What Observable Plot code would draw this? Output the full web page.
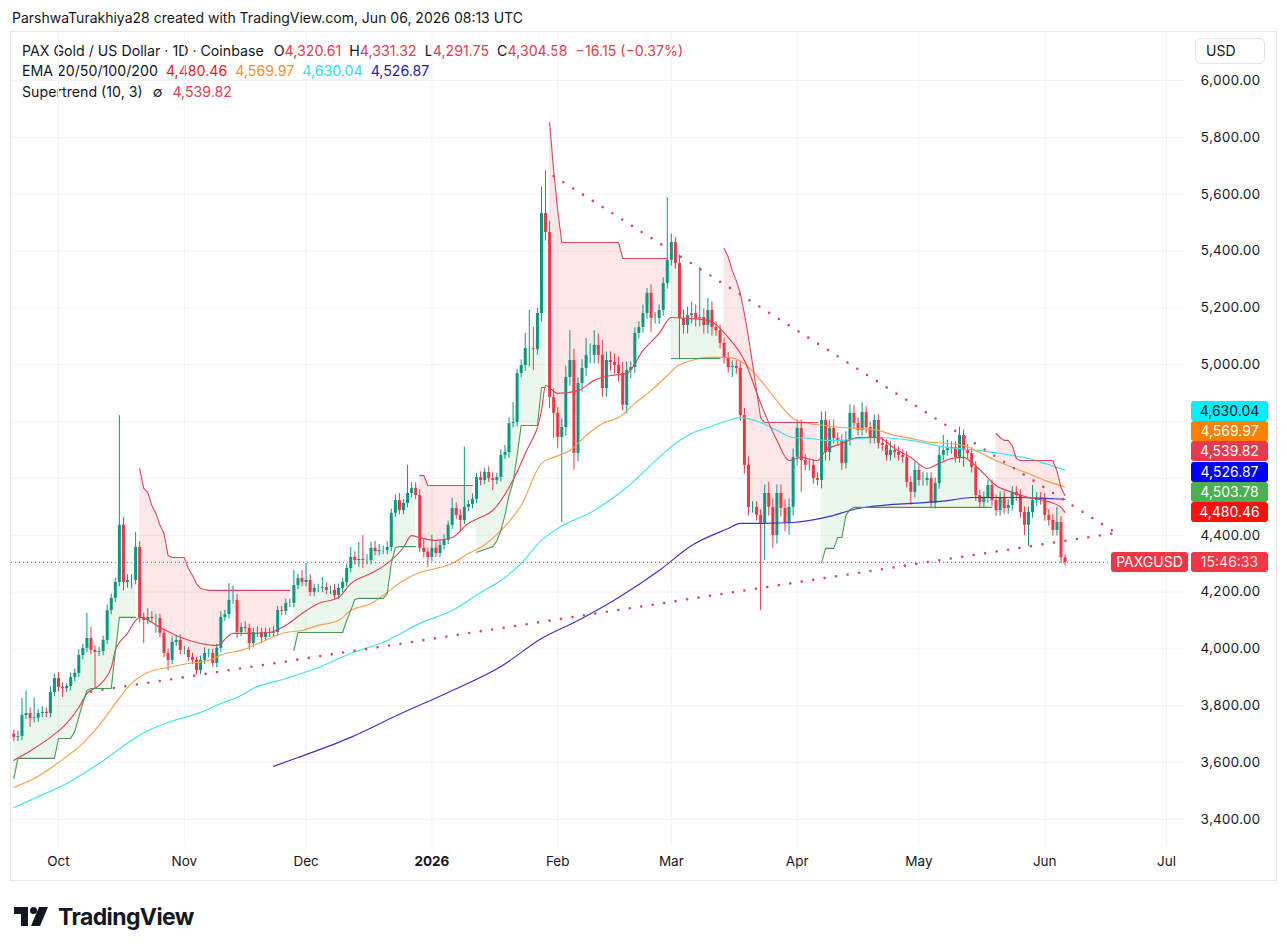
<!DOCTYPE html>
<html><head><meta charset="utf-8">
<script src="https://cdn.jsdelivr.net/npm/d3@7"></script>
<script src="https://cdn.jsdelivr.net/npm/@observablehq/plot@0.6"></script>
<style>
body{margin:0;background:#fff;font-family:Inter,"Noto Sans",sans-serif;color:#131722;}
#page{position:relative;width:1287px;height:952px;overflow:hidden;background:#fff;}
.abs{position:absolute;white-space:nowrap;}
.lg{font-size:14.2px;line-height:18px;left:22px;}
.lg span{margin-left:8px;}
.lbl{position:absolute;height:20px;line-height:20px;border-radius:3px;font-size:14px;text-align:center;color:#fff;}
#frame{position:absolute;left:11px;top:32px;width:1265px;height:848px;box-shadow:0 0 0 1px #e6e8ee;}
</style></head><body><div id="page">
<div class="abs" style="left:12px;top:9px;font-size:14px;line-height:18px;">ParshwaTurakhiya28 created with TradingView.com, Jun 06, 2026 08:13 UTC</div>
<div id="frame"></div>
<div class="abs lg" style="top:42px;">PAX Gold / US Dollar · 1D · Coinbase<span style="margin-left:10px">O<b style="font-weight:400;color:#e0404f">4,320.61</b></span><span>H<b style="font-weight:400;color:#e0404f">4,331.32</b></span><span>L<b style="font-weight:400;color:#e0404f">4,291.75</b></span><span>C<b style="font-weight:400;color:#e0404f">4,304.58</b></span><span style="color:#e0404f">−16.15 (−0.37%)</span></div>
<div class="abs lg" style="top:62px;">EMA 20/50/100/200<span style="color:#e8202a">4,480.46</span><span style="color:#f0902a">4,569.97</span><span style="color:#2fdce8">4,630.04</span><span style="color:#2222b0">4,526.87</span></div>
<div class="abs lg" style="top:83px;">Supertrend (10, 3)<span style="margin-left:10px">∅</span><span style="margin-left:10px;color:#e0404f">4,539.82</span></div>
<div class="abs" style="left:1195px;top:38px;width:70px;height:26px;border:1px solid #e0e3eb;border-radius:6px;box-sizing:border-box;font-size:14px;line-height:24px;padding-left:10px;">USD</div>
<div class="abs" style="left:14px;top:904px;">
<svg width="200" height="26" viewBox="0 0 200 26"><path d="M0 3H14V22H7V10H0Z" fill="#131722"/><circle cx="19.5" cy="6.5" r="3.5" fill="#131722"/><path d="M25 3H34L26 22H17Z" fill="#131722"/><text x="44" y="21" font-family="Inter, sans-serif" font-size="23" font-weight="700" letter-spacing="-0.6" fill="#131722">TradingView</text></svg>
</div>
<div id="chart" class="abs" style="left:11px;top:32px;"></div>
</div>
<script>
// ---- data ----
const firstOpen = 3700;
const close = [
3689,3692,3766,3773,3755,3757,3773,3777,3773,3847,
3896,3865,3861,3868,3900,3914,3977,4002,4037,3995,
3988,3991,4030,4135,4178,4234,4435,4234,4241,4241,
4357,4111,4100,4111,4107,4107,4055,3984,3960,4023,
4030,3995,3995,3970,3960,3924,3960,3984,3984,3949,
4002,4111,4121,4171,4171,4058,4076,4072,4019,4058,
4058,4041,4058,4055,4058,4135,4132,4160,4160,4223,
4248,4234,4241,4199,4213,4213,4216,4206,4206,4188,
4213,4234,4283,4322,4311,4315,4311,4311,4354,4343,
4347,4347,4357,4477,4522,4487,4512,4547,4565,4540,
4354,4340,4322,4354,4336,4364,4382,4435,4494,4470,
4452,4498,4508,4526,4603,4593,4621,4600,4593,4603,
4681,4691,4793,4797,4969,4997,5057,5057,5054,5180,
5532,5465,4885,4829,4744,4779,4955,5015,4688,4934,
4987,5033,5033,5068,5033,4916,5015,5008,4997,4969,
4857,4980,4990,5110,5131,5180,5251,5163,5163,5191,
5286,5367,5430,5356,5163,5138,5173,5180,5163,5166,
5138,5191,5131,5120,5075,5022,4990,4994,4987,4821,
4646,4498,4498,4470,4442,4547,4498,4399,4547,4494,
4442,4498,4674,4776,4663,4646,4646,4600,4593,4804,
4691,4776,4741,4734,4653,4734,4829,4793,4769,4832,
4779,4741,4804,4723,4716,4681,4698,4691,4681,4674,
4586,4551,4628,4593,4593,4600,4512,4582,4681,4698,
4705,4709,4674,4751,4698,4688,4639,4540,4515,4533,
4575,4522,4487,4533,4494,4505,4551,4540,4480,4435,
4480,4522,4530,4526,4470,4452,4417,4445,4320.61,4304.58];
const wickUp = [
15,20,60,80,20,70,15,20,15,20, 15,20,15,10,15,15,20,15,88,39,
15,15,15,20,15,15,386,28,20,20, 53,20,15,30,20,15,15,10,15,20,
15,20,15,10,15,10,15,20,15,15, 15,20,15,59,50,20,15,20,15,15,
20,15,15,15,20,15,15,15,15,53, 15,28,60,20,15,15,36,15,15,20,
15,15,15,35,20,60,84,20,21,25, 20,15,20,15,20,25,15,99,20,20,
20,30,15,46,20,15,20,15,36,20, 20,212,15,20,15,20,15,20,20,15,
20,25,20,70,15,20,53,134,74,18, 92,151,40,30,20,30,40,105,40,20,
30,59,40,52,40,52,30,30,30,30, 40,30,20,20,20,30,17,30,20,20,
20,221,30,18,30,30,30,40,30,176, 30,42,30,20,20,20,20,20,20,25,
25,30,20,20,20,30,39,30,30,30, 30,30,30,30,30,20,20,20,20,30,
30,30,30,20,20,30,30,28,20,35, 20,20,20,20,20,20,30,20,20,20,
20,20,30,20,30,20,20,20,30,53, 30,20,20,30,20,20,20,20,20,20,
20,20,20,20,20,20,20,20,20,20, 20,53,20,20,20,20,20,53,20,10.71];
const wickDn = [
15,15,15,15,31,15,15,15,15,15, 15,15,31,15,15,15,15,15,15,15,
127,15,15,15,15,15,15,30,20,30, 15,20,81,15,15,52,15,15,36,15,
15,15,15,15,15,15,15,15,15,14, 15,15,15,15,15,20,15,15,24,15,
17,22,15,15,15,15,15,15,15,15, 15,15,15,15,15,15,15,15,15,15,
15,15,15,15,15,24,28,15,15,15, 15,15,15,15,15,15,15,15,15,15,
15,20,35,15,15,15,15,15,15,15, 42,15,15,15,15,20,15,15,35,15,
15,15,20,15,15,15,20,64,74,20, 30,30,40,88,40,299,30,30,60,30,
30,30,30,30,30,31,30,30,30,30, 20,30,30,20,20,20,20,50,20,20,
20,20,20,20,141,30,30,30,30,30, 30,30,30,20,20,20,20,35,20,20,
30,30,20,20,307,131,30,45,30,30, 30,42,30,30,112,20,20,20,20,30,
30,30,20,20,25,20,20,20,20,20, 20,20,20,20,20,20,20,20,20,20,
20,46,20,20,20,20,14,20,20,20, 20,20,20,20,59,20,20,20,20,20,
20,20,20,20,20,20,20,20,20,36, 75,20,20,20,20,20,20,20,20,12.83];

const ema20Day = [0,5,9,13,16,18,21,24,25,28,30,31,36,41,46,50,54,59,63,67,71,75,80,83,88,92,96,98,100,104,108,112,115,118,122,126,130,131,134,139,143,147,151,155,159,162,166,171,176,180,184,188,191,194,198,200,204,208,213,217,221,225,228,231,234,236,239,242,246,250,254,258,259];
const ema20Val = [3608,3650,3689,3738,3794,3843,3872,3935,3995,4055,4100,4111,4076,4041,4019,4012,4055,4055,4058,4083,4125,4160,4181,4230,4266,4301,4357,4399,4392,4382,4392,4442,4463,4487,4568,4688,4839,4927,4899,4909,4945,4962,4969,5050,5110,5166,5163,5156,5096,5015,4864,4734,4663,4674,4663,4698,4723,4744,4744,4705,4674,4635,4653,4670,4674,4656,4617,4575,4551,4533,4522,4498,4480.46];
const ema50Day = [0,5,11,17,21,25,29,33,38,43,48,52,56,59,67,71,75,80,83,88,92,96,100,104,108,112,115,120,125,130,133,137,141,145,149,153,157,161,163,167,171,176,180,184,188,192,196,200,204,208,213,217,221,226,230,234,238,242,246,250,254,259];
const ema50Val = [3513,3544,3601,3668,3731,3808,3879,3917,3935,3949,3960,3984,3995,4012,4058,4065,4083,4100,4135,4160,4199,4241,4269,4283,4301,4336,4357,4417,4505,4653,4674,4698,4751,4793,4814,4864,4909,4962,4990,5015,5026,5026,5004,4945,4874,4811,4793,4786,4779,4776,4769,4751,4741,4727,4723,4716,4691,4663,4639,4617,4593,4569.97];
const ema100Day = [0,5,13,21,28,33,38,46,51,56,59,67,75,83,92,100,108,115,120,125,130,134,143,151,159,163,167,171,176,179,184,188,192,196,200,204,208,213,221,230,238,246,250,254,259];
const ema100Val = [3442,3474,3527,3597,3668,3713,3741,3777,3808,3836,3861,3896,3935,3984,4030,4090,4135,4199,4241,4301,4382,4424,4487,4568,4674,4723,4758,4779,4804,4814,4797,4769,4744,4741,4734,4734,4741,4744,4734,4709,4698,4681,4670,4653,4630.04];
const ema200Day = [64,70,83,95,107,120,130,139,149,159,167,176,179,184,192,200,208,216,221,230,236,246,254,259];
const ema200Val = [3587,3618,3689,3770,3847,3938,4037,4100,4181,4276,4364,4424,4442,4442,4445,4463,4494,4508,4512,4522,4533,4533,4530,4526.87];

// Supertrend: segment starts (day index) with direction, and level knots [day, value]
const stSegStart = [0,31,69,100,114,132,162,175,199,242];
const stSegDir = [1,-1,1,-1,1,-1,1,-1,1,-1];
const stKnots = [[0,3544],[1,3615],[11,3685],[15,3710],[16,3760],[17,3810],[18,3854],[19,3861],[25,3990],[26,4111],
[31,4635],[32,4565],[33,4551],[34,4505],[35,4477],[36,4435],[37,4406],[38,4329],[39,4322],[43,4283],[44,4259],[45,4230],[46,4213],[47,4209],[48,4206],
[69,3995],[70,4058],[82,4100],[83,4135],[84,4174],[85,4178],[92,4195],[93,4300],[94,4357],[95,4360],
[100,4610],[102,4575],
[114,4340],[115,4345],[116,4350],[117,4355],[118,4360],[119,4380],[120,4417],[121,4470],[122,4540],[123,4586],[124,4680],[125,4786],[130,4920],
[132,5852],[133,5683],[134,5543],[135,5430],[150,5374],
[162,5022],
[175,5409],[176,5380],[177,5332],[178,5296],[179,5251],[180,5180],[181,5096],[182,5004],[183,4909],[184,4814],[185,4797],
[199,4304],[200,4354],[203,4392],[205,4470],[206,4490],[207,4498],
[242,4758],[243,4744],[244,4734],[246,4716],[247,4670],[248,4663],[257,4628],[258,4568],[259,4539.82]];

const trendLow = [[19,3850],[272,4409]];
const trendHigh = [[133,5664],[272,4404]];

const yGrid = [3400,3600,3800,4000,4200,4400,4600,4800,5000,5200,5400,5600,5800,6000];
const yLabelTicks = [3400,3600,3800,4000,4200,4400,5000,5200,5400,5600,5800,6000];
const monthTicks = [[2025,9],[2025,10],[2025,11],[2026,0],[2026,1],[2026,2],[2026,3],[2026,4],[2026,5],[2026,6]].map(([y,m])=>new Date(Date.UTC(y,m,1)));
const lastClose = 4304.58;
const valueLabels = [
 {v:4630.04, bg:"#00f0ff", fg:"#131722"},
 {v:4569.97, bg:"#ff8000", fg:"#fff"},
 {v:4539.82, bg:"#e8384c", fg:"#fff"},
 {v:4526.87, bg:"#0000ff", fg:"#fff"},
 {v:4503.78, bg:"#4caf50", fg:"#fff"},
 {v:4480.46, bg:"#ff1010", fg:"#fff"}];

// ---- build tables ----
const day = i => new Date(Date.UTC(2025, 8, 20 + i));
const candles = close.map((c, i) => {
  const o = i === 0 ? firstOpen : close[i-1];
  return {date: day(i), open: o, close: c, high: Math.max(o,c)+wickUp[i], low: Math.min(o,c)-wickDn[i], mid: (o+c)/2};
});
const stRows = candles.map((d, i) => {
  let seg = 0; for (let k = 0; k < stSegStart.length; k++) if (stSegStart[k] <= i) seg = k;
  let st = null; for (const [kd, kv] of stKnots) if (kd <= i) st = kv;
  return {date: d.date, st, mid: d.mid, seg, dir: stSegDir[seg]};
});
const emaRows = (days, vals) => days.map((d, k) => ({date: day(d), v: vals[k]}));
const trRows = arr => arr.map(([d, v]) => ({date: day(d), v}));
const UP = "#089981", DN = "#f23645";
const upC = candles.filter(d => d.close >= d.open), dnC = candles.filter(d => d.close < d.open);
const emaOpt = c => ({x: "date", y: "v", stroke: c, strokeWidth: 1.15, curve: "monotone-x"});

const chart = Plot.plot({
  width: 1265, height: 848, marginLeft: 0, marginRight: 91, marginTop: 0, marginBottom: 34,
  style: {fontFamily: "Inter, sans-serif", fontSize: "13.5px", color: "#131722", background: "transparent", overflow: "visible"},
  x: {type: "utc", domain: [monthTicks[0], monthTicks[9]], range: [47, 1155], axis: null},
  y: {domain: [3400, 6000], range: [787, 48], axis: null},
  marks: [
    Plot.ruleY(yGrid, {stroke: "#f0f3fa"}),
    Plot.ruleX(monthTicks, {stroke: "#f0f3fa"}),
    Plot.areaY(stRows.filter(d => d.dir > 0), {x: "date", y1: "st", y2: "mid", z: "seg", fill: "rgba(76,175,80,0.11)"}),
    Plot.areaY(stRows.filter(d => d.dir < 0), {x: "date", y1: "st", y2: "mid", z: "seg", fill: "rgba(242,54,69,0.12)"}),
    Plot.ruleX(upC, {x: "date", y1: "low", y2: "high", stroke: UP, strokeWidth: 1}),
    Plot.ruleX(dnC, {x: "date", y1: "low", y2: "high", stroke: DN, strokeWidth: 1}),
    Plot.ruleX(upC, {x: "date", y1: "open", y2: "close", stroke: UP, strokeWidth: 3}),
    Plot.ruleX(dnC, {x: "date", y1: "open", y2: "close", stroke: DN, strokeWidth: 3}),
    Plot.line(emaRows(ema200Day, ema200Val), emaOpt("#3434c8")),
    Plot.line(emaRows(ema100Day, ema100Val), emaOpt("#3fe3f0")),
    Plot.line(emaRows(ema50Day, ema50Val), emaOpt("#f5a04a")),
    Plot.line(emaRows(ema20Day, ema20Val), emaOpt("#e04450")),
    Plot.line(stRows.filter(d => d.dir > 0), {x: "date", y: "st", z: "seg", stroke: "#4a9a4e", strokeWidth: 1.1}),
    Plot.line(stRows.filter(d => d.dir < 0), {x: "date", y: "st", z: "seg", stroke: "#d9485a", strokeWidth: 1.1}),
    Plot.line(trRows(trendLow), {x: "date", y: "v", stroke: "#d44a5c", strokeWidth: 2.6, strokeDasharray: "0 11.6", strokeLinecap: "round"}),
    Plot.line(trRows(trendHigh), {x: "date", y: "v", stroke: "#d44a5c", strokeWidth: 2.6, strokeDasharray: "0 11.6", strokeLinecap: "round"}),
    Plot.ruleY([lastClose], {stroke: "#f23645", strokeDasharray: "1 3", strokeWidth: 1}),
    Plot.axisY(yLabelTicks, {anchor: "right", tickFormat: d3.format(",.2f"), tickSize: 0, tickPadding: 15}),
    Plot.text(monthTicks.filter(d => d.getUTCMonth() !== 0), {x: d => d, text: d => d3.utcFormat("%b")(d), frameAnchor: "bottom", dy: 19}),
    Plot.text(monthTicks.filter(d => d.getUTCMonth() === 0), {x: d => d, text: d => d3.utcFormat("%Y")(d), frameAnchor: "bottom", dy: 19, fontWeight: "bold"})
  ]
});
document.getElementById("chart").appendChild(chart);

// right-side value labels (stacked upward to avoid overlap)
const ys = chart.scale("y");
const page = document.getElementById("page");
const sorted = valueLabels.slice().sort((a, b) => a.v - b.v);
let prev = null;
for (const L of sorted) {
  let y = ys.apply(L.v) + 32;
  if (prev !== null) y = Math.min(y, prev - 20.2);
  prev = y;
  const el = document.createElement("div");
  el.className = "lbl";
  el.style.left = "1191px"; el.style.width = "77px"; el.style.top = (y - 10) + "px";
  el.style.background = L.bg; el.style.color = L.fg;
  el.textContent = d3.format(",.2f")(L.v);
  page.appendChild(el);
}
const py = ys.apply(lastClose) + 32;
const a = document.createElement("div");
a.className = "lbl"; a.style.left = "1111px"; a.style.width = "77px"; a.style.top = (py - 10) + "px";
a.style.background = "#f23645"; a.textContent = "PAXGUSD"; page.appendChild(a);
const b = document.createElement("div");
b.className = "lbl"; b.style.left = "1191px"; b.style.width = "77px"; b.style.top = (py - 10) + "px";
b.style.background = "#f23645"; b.style.color = "rgba(255,255,255,0.88)"; b.textContent = "15:46:33"; page.appendChild(b);
</script>
</body></html>
